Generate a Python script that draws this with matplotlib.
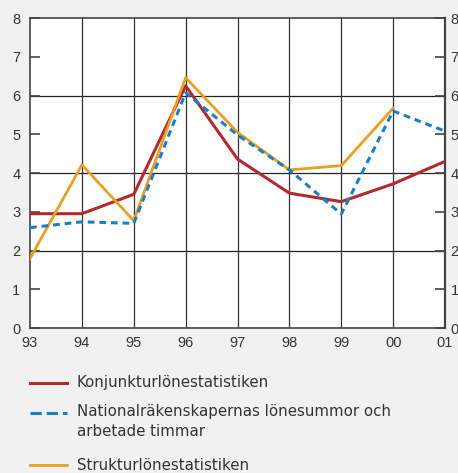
import numpy as np
import matplotlib
matplotlib.use("Agg")
import matplotlib.pyplot as plt
from matplotlib.lines import Line2D

years = ["93", "94", "95", "96", "97", "98", "99", "00", "01"]
konjunktur = [2.95, 2.95, 3.45, 6.25, 4.36, 3.48, 3.26, 3.72, 4.30]
national = [2.59, 2.74, 2.70, 6.07, 4.98, 4.08, 2.94, 5.60, 5.08]
struktur = [1.79, 4.21, 2.77, 6.46, 5.05, 4.08, 4.19, 5.67]

labels = ["Konjunkturlönestatistiken",
          "Nationalräkenskapernas lönesummor och\narbetade timmar",
          "Strukturlönestatistiken"]

bg = "#f0f1f0"
txt = "#333333"
c_red = "#b02a30"
c_blue = "#1b7fc6"
c_orange = "#e89f22"

plt.rcParams['font.family'] = ['Liberation Sans', 'DejaVu Sans']

fig = plt.figure(figsize=(4.58, 4.73), dpi=100, facecolor=bg)
ax = fig.add_axes([30/458, 1-328/473, 415/458, 310/473])
ax.set_facecolor("white")

x = np.arange(len(years))
ax.plot(x, konjunktur, color=c_red, lw=2.2, zorder=3)
ax.plot(x, national, color=c_blue, lw=2.2, ls=(0, (2.2, 1.6)), zorder=4)
ax.plot(x[:len(struktur)], struktur, color=c_orange, lw=2.0, zorder=3)

ax.set_xlim(0, len(years)-1)
ax.set_ylim(0, 8)
ax.set_xticks(x)
ax.set_xticklabels(years)
ax.set_yticks(range(9))
for yy in [2, 4, 6]:
    ax.axhline(yy, color="#222222", lw=0.9, zorder=1)
for xx in x[1:-1]:
    ax.axvline(xx, color="#333333", lw=0.9, zorder=1)

ax.tick_params(axis='y', direction='in', length=7, width=1.2, colors="#444444",
               labelcolor=txt, labelsize=10.5, pad=7)
ax.tick_params(axis='x', length=0, labelcolor=txt, labelsize=10.5, pad=6)
for s in ax.spines.values():
    s.set_color("#444444")
    s.set_linewidth(1.2)
ax.spines['right'].set_linewidth(1.6)

ax2 = ax.twinx()
ax2.set_ylim(0, 8)
ax2.set_yticks(range(9))
ax2.tick_params(axis='y', direction='in', length=7, width=1.2, colors="#444444",
                labelcolor=txt, labelsize=10.5, pad=4)
for s in ax2.spines.values():
    s.set_visible(False)

# legend below the chart
handles = [Line2D([0], [0], color=c_red, lw=2.2),
           Line2D([0], [0], color=c_blue, lw=2.2, ls=(0, (2.2, 1.6))),
           Line2D([0], [0], color=c_orange, lw=2.0)]
rows = [383, 413, 465]
for h, lab, r in zip(handles, labels, rows):
    yf = 1 - r/473
    fig.add_artist(Line2D([30/458, 67/458], [yf, yf], color=h.get_color(),
                          lw=h.get_linewidth(), ls=h.get_linestyle()))
    fig.text(77/458, yf, lab, color=txt, fontsize=10.8, family='DejaVu Sans',
             va='top' if '\n' in lab else 'center',
             linespacing=1.4, transform=fig.transFigure)

fig.texts[1].set_y(1 - 404/473)

fig.savefig("out.png", dpi=100, facecolor=bg)
